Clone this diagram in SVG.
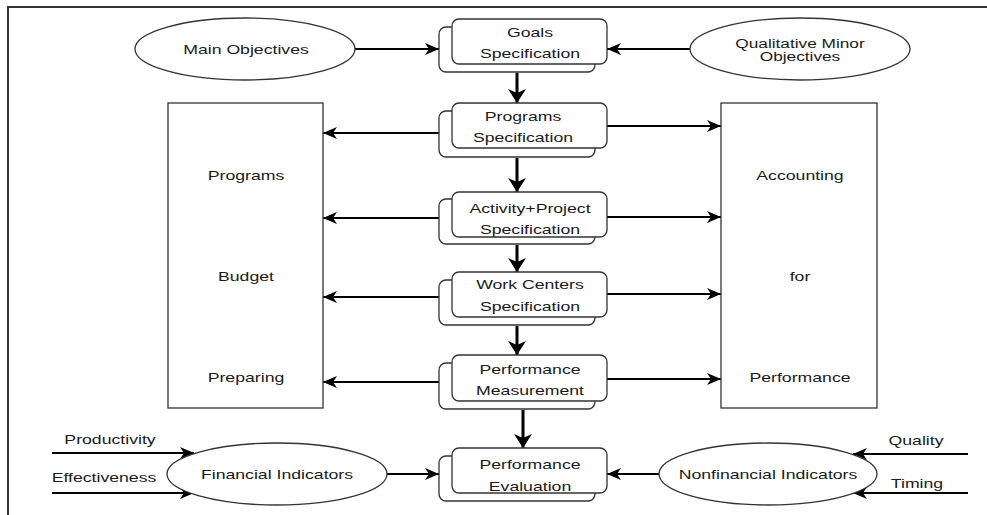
<svg xmlns="http://www.w3.org/2000/svg" width="987" height="515" viewBox="0 0 987 515">
<defs>
<style>
.bg{fill:#fff}
.frame{fill:none;stroke:#333;stroke-width:2}
.shape{fill:#fff;stroke:#333;stroke-width:1.3}
.t{font-family:"Liberation Sans",Arial,sans-serif;font-size:13px;fill:#1a1a1a;text-anchor:middle}
.ts{font-size:12.5px}
.c{fill:none;stroke:#000;stroke-width:2}
.ct{fill:none;stroke:#000;stroke-width:3}
</style>
<marker id="ah" markerUnits="userSpaceOnUse" markerWidth="16" markerHeight="12" refX="14" refY="6" orient="auto">
<path d="M0,0 L14,6 L0,12 L4,6 Z" fill="#000"/>
</marker>
<marker id="ahb" markerUnits="userSpaceOnUse" markerWidth="16" markerHeight="18" refX="14" refY="9" orient="auto">
<path d="M0,0 L14,9 L0,18 L4,9 Z" fill="#000"/>
</marker>
</defs>
<rect class="bg" x="0" y="0" width="987" height="515"/>
<path class="frame" d="M8,515 L8,7 L987,7"/>

<g id="connectors">
<line class="c" x1="355" y1="49" x2="439" y2="49" marker-end="url(#ah)"/>
<line class="c" x1="690" y1="49" x2="607" y2="49" marker-end="url(#ah)"/>
<line class="ct" x1="517" y1="73" x2="517" y2="103" marker-end="url(#ahb)"/>
<line class="ct" x1="517" y1="158" x2="517" y2="192" marker-end="url(#ahb)"/>
<line class="ct" x1="517" y1="245" x2="517" y2="272" marker-end="url(#ahb)"/>
<line class="ct" x1="517" y1="326" x2="517" y2="355" marker-end="url(#ahb)"/>
<line class="ct" x1="523" y1="410" x2="523" y2="448" marker-end="url(#ahb)"/>
<line class="c" x1="439" y1="133" x2="323" y2="133" marker-end="url(#ah)"/>
<line class="c" x1="607" y1="126" x2="721" y2="126" marker-end="url(#ah)"/>
<line class="c" x1="439" y1="218" x2="323" y2="218" marker-end="url(#ah)"/>
<line class="c" x1="607" y1="217" x2="721" y2="217" marker-end="url(#ah)"/>
<line class="c" x1="439" y1="297" x2="323" y2="297" marker-end="url(#ah)"/>
<line class="c" x1="607" y1="294" x2="721" y2="294" marker-end="url(#ah)"/>
<line class="c" x1="439" y1="382" x2="323" y2="382" marker-end="url(#ah)"/>
<line class="c" x1="607" y1="379" x2="721" y2="379" marker-end="url(#ah)"/>
<line class="c" x1="387" y1="474" x2="439" y2="474" marker-end="url(#ah)"/>
<line class="c" x1="659" y1="474" x2="607" y2="474" marker-end="url(#ah)"/>
<line class="c" x1="52" y1="453" x2="194" y2="453" marker-end="url(#ah)"/>
<line class="c" x1="52" y1="493" x2="194" y2="493" marker-end="url(#ah)"/>
<line class="c" x1="968" y1="454" x2="853" y2="454" marker-end="url(#ah)"/>
<line class="c" x1="968" y1="493" x2="853" y2="493" marker-end="url(#ah)"/>
<text class="t" transform="translate(110,444) scale(1.36,1)">Productivity</text>
<text class="t" transform="translate(104,482) scale(1.36,1)">Effectiveness</text>
<text class="t" transform="translate(916,445) scale(1.36,1)">Quality</text>
<text class="t" transform="translate(917,488) scale(1.36,1)">Timing</text>
</g>

<g id="main-objectives">
<ellipse class="shape" cx="245" cy="49" rx="110" ry="31"/>
<text class="t" transform="translate(246,54) scale(1.36,1)">Main Objectives</text>
</g>

<g id="qualitative-minor-objectives">
<ellipse class="shape" cx="800" cy="49" rx="110" ry="31"/>
<text class="t ts" transform="translate(800,47.5) scale(1.38,1)">Qualitative Minor</text>
<text class="t ts" transform="translate(800,61) scale(1.38,1)">Objectives</text>
</g>

<g id="goals-specification">
<rect class="shape" x="439" y="27" width="156" height="45" rx="7"/>
<rect class="shape" x="452" y="19" width="155" height="45" rx="7"/>
<text class="t" transform="translate(530,37) scale(1.36,1)">Goals</text>
<text class="t" transform="translate(530,58) scale(1.36,1)">Specification</text>
</g>

<g id="programs-specification">
<rect class="shape" x="439" y="111" width="156" height="46" rx="7"/>
<rect class="shape" x="452" y="103" width="155" height="45" rx="7"/>
<text class="t" transform="translate(523,121) scale(1.36,1)">Programs</text>
<text class="t" transform="translate(523,142) scale(1.36,1)">Specification</text>
</g>

<g id="activity-project-specification">
<rect class="shape" x="439" y="199" width="156" height="45" rx="7"/>
<rect class="shape" x="452" y="192" width="155" height="45" rx="7"/>
<text class="t" transform="translate(530,213) scale(1.36,1)">Activity+Project</text>
<text class="t" transform="translate(530,234) scale(1.36,1)">Specification</text>
</g>

<g id="work-centers-specification">
<rect class="shape" x="439" y="280" width="156" height="45" rx="7"/>
<rect class="shape" x="452" y="272" width="155" height="45" rx="7"/>
<text class="t" transform="translate(530,289) scale(1.36,1)">Work Centers</text>
<text class="t" transform="translate(530,311) scale(1.36,1)">Specification</text>
</g>

<g id="performance-measurement">
<rect class="shape" x="439" y="363" width="156" height="46" rx="7"/>
<rect class="shape" x="452" y="355" width="155" height="46" rx="7"/>
<text class="t" transform="translate(530,374) scale(1.36,1)">Performance</text>
<text class="t" transform="translate(530,395) scale(1.36,1)">Measurement</text>
</g>

<g id="performance-evaluation">
<rect class="shape" x="439" y="456" width="156" height="45" rx="7"/>
<rect class="shape" x="452" y="448" width="155" height="45" rx="7"/>
<text class="t" transform="translate(530,469) scale(1.36,1)">Performance</text>
<text class="t" transform="translate(530,491) scale(1.36,1)">Evaluation</text>
</g>

<g id="programs-budget-preparing">
<rect class="shape" x="168" y="103" width="155" height="305"/>
<text class="t" transform="translate(246,180) scale(1.36,1)">Programs</text>
<text class="t" transform="translate(246,281) scale(1.36,1)">Budget</text>
<text class="t" transform="translate(246,382) scale(1.36,1)">Preparing</text>
</g>

<g id="accounting-for-performance">
<rect class="shape" x="721" y="103" width="156" height="305"/>
<text class="t" transform="translate(800,180) scale(1.36,1)">Accounting</text>
<text class="t" transform="translate(800,281) scale(1.36,1)">for</text>
<text class="t" transform="translate(800,382) scale(1.36,1)">Performance</text>
</g>

<g id="financial-indicators">
<ellipse class="shape" cx="277" cy="474" rx="110" ry="31"/>
<text class="t" transform="translate(277,479) scale(1.36,1)">Financial Indicators</text>
</g>

<g id="nonfinancial-indicators">
<ellipse class="shape" cx="768" cy="474" rx="109" ry="31"/>
<text class="t" transform="translate(768,479) scale(1.36,1)">Nonfinancial Indicators</text>
</g>
</svg>
